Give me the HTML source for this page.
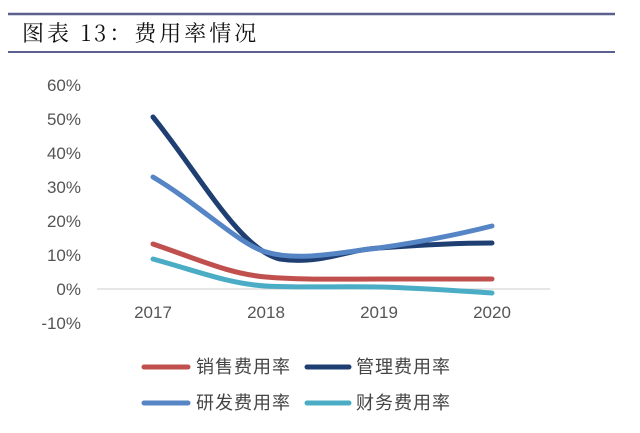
<!DOCTYPE html>
<html><head><meta charset="utf-8"><style>
body{margin:0;background:#fff;width:640px;height:428px;overflow:hidden}
</style></head><body>
<svg width="640" height="428" xmlns="http://www.w3.org/2000/svg" style="font-family:'Liberation Sans','Noto Sans CJK SC',sans-serif">
<line x1="8" y1="14" x2="615" y2="14" stroke="#5d5f8c" stroke-width="2.5"/>
<line x1="8" y1="52" x2="615" y2="52" stroke="#5d5f8c" stroke-width="2"/>
<text x="22" y="41" font-size="22" letter-spacing="3" font-family="'Noto Serif CJK SC',serif" fill="#111">图表 13：费用率情况</text>
<g font-size="17" fill="#555" text-anchor="end">
<text x="81" y="91">60%</text><text x="81" y="125">50%</text><text x="81" y="159">40%</text>
<text x="81" y="193">30%</text><text x="81" y="227">20%</text><text x="81" y="261">10%</text>
<text x="81" y="295">0%</text><text x="81" y="329">-10%</text>
</g>
<line x1="97" y1="289" x2="550" y2="289" stroke="#ccc" stroke-width="1"/>
<g font-size="17" fill="#555" text-anchor="middle">
<text x="153" y="318">2017</text><text x="266" y="318">2018</text><text x="379" y="318">2019</text><text x="492" y="318">2020</text>
</g>
<g fill="none" stroke-width="5" stroke-linecap="round">
<path d="M153,259 C200,272 230,284 266,286 C300,288 340,286 379,287 C420,288 460,291 492,293" stroke="#4bacc6"/>
<path d="M153,244 C200,260 230,274 266,277 C300,280 340,279 379,279 C420,279 460,279 492,279" stroke="#c0504d"/>
<path d="M153,117 C200,175 240,250 280,259 C320,265 345,250 379,248 C420,245 460,243 492,243" stroke="#1f3f73"/>
<path d="M153,177 C200,205 240,245 266,252 C300,262 340,252 379,248 C420,242 460,234 492,226" stroke="#5585c5"/>
</g>
<g stroke-width="5" stroke-linecap="round">
<line x1="144" y1="367" x2="188" y2="367" stroke="#c0504d"/>
<line x1="307" y1="367" x2="349" y2="367" stroke="#1f3f73"/>
<line x1="144" y1="403" x2="188" y2="403" stroke="#5585c5"/>
<line x1="307" y1="403" x2="349" y2="403" stroke="#4bacc6"/>
</g>
<g font-size="18" letter-spacing="1" fill="#444">
<text x="196" y="373">销售费用率</text><text x="356" y="373">管理费用率</text>
<text x="196" y="409">研发费用率</text><text x="356" y="409">财务费用率</text>
</g>
</svg>
</body></html>
